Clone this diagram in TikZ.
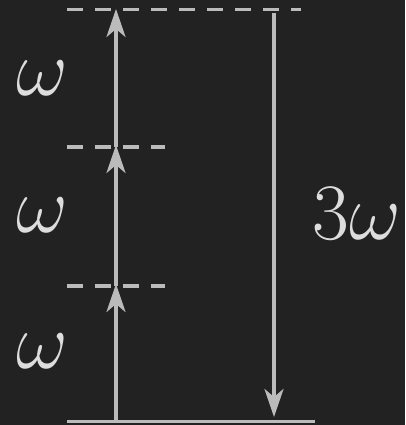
\documentclass[tikz,border=0pt]{standalone}
\usepackage{fix-cm}
\usetikzlibrary{arrows.meta}
\definecolor{bgc}{HTML}{222222}
\definecolor{fgc}{HTML}{BBBBBB}
\definecolor{txc}{HTML}{DDDDDD}
\begin{document}
\begin{tikzpicture}[x=1pt,y=-1pt,
  lvl/.style={draw=fgc,line width=3.6pt,dash pattern=on 16pt off 12pt},
  ground/.style={draw=fgc,line width=3.6pt},
  arr/.style={draw=fgc,line width=3.6pt,-{Stealth[length=28pt,width=19pt,inset=8pt]}},
  lbl/.style={text=txc,inner sep=0pt,font=\fontsize{80}{96}\selectfont}]
\fill[bgc] (0,0) rectangle (405,425);
\useasboundingbox (0,0) rectangle (405,425);
% levels
\coordinate (t0) at (67,9.5);  \coordinate (t1) at (301,9.5);
\coordinate (m0) at (67,147);  \coordinate (m1) at (165,147);
\coordinate (n0) at (67,286);  \coordinate (n1) at (165,286);
\coordinate (g0) at (67,421.5); \coordinate (g1) at (315,421.5);
\draw[lvl] (t0) -- (t1);
\draw[lvl] (m0) -- (m1);
\draw[lvl] (n0) -- (n1);
\draw[ground] (g0) -- (g1);
% arrows
\coordinate (a0) at (116,421.5);
\coordinate (a1) at (116,284);
\coordinate (a2) at (116,145);
\coordinate (a3) at (116,9);
\coordinate (b1) at (116,286);
\coordinate (b2) at (116,147);
\draw[arr] (a0) -- (a1);
\draw[arr] (b1) -- (a2);
\draw[arr] (b2) -- (a3);
\coordinate (d0) at (274,13);
\coordinate (d1) at (274,417);
\draw[arr] (d0) -- (d1);
% labels
\node[lbl] (w1) at (42,78) {$\omega$};
\node[lbl] (w2) at (42,215) {$\omega$};
\node[lbl] (w3) at (42,351) {$\omega$};
\node[lbl] (w4) at (357,214) {$3\omega$};
\end{tikzpicture}
\end{document}
